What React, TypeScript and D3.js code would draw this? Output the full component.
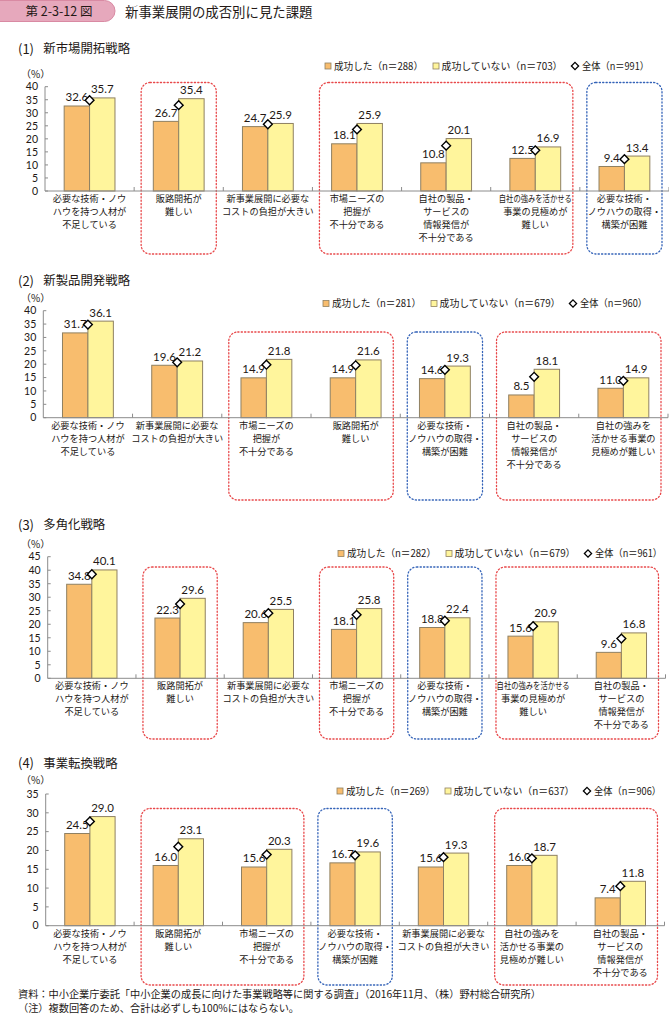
import React from "react";
import * as d3 from "d3";

const FONT = '"Noto Sans CJK JP", "Noto Sans", sans-serif';
const NUMFONT = 'Lato, "Noto Sans", sans-serif';

// ---------- DATA ----------
const p1Num = "(1)";
const p1Title = "新市場開拓戦略";
const p1Categories = [
  "必要な技術・ノウ\nハウを持つ人材が\n不足している",
  "販路開拓が\n難しい",
  "新事業展開に必要な\nコストの負担が大きい",
  "市場ニーズの\n把握が\n不十分である",
  "自社の製品・\nサービスの\n情報発信が\n不十分である",
  "自社の強みを活かせる\n事業の見極めが\n難しい",
  "必要な技術・\nノウハウの取得・\n構築が困難",
];
const p1Success = [32.6, 26.7, 24.7, 18.1, 10.8, 12.5, 9.4];
const p1Fail = [35.7, 35.4, 25.9, 25.9, 20.1, 16.9, 13.4];
const p1Total = [34.8, 32.9, 25.6, 23.6, 17.4, 15.6, 12.2];
const p1Ticks = [0, 5, 10, 15, 20, 25, 30, 35, 40];
const p1Legend = ["成功した（n＝288）", "成功していない（n＝703）", "全体（n＝991）"];

const p2Num = "(2)";
const p2Title = "新製品開発戦略";
const p2Categories = [
  "必要な技術・ノウ\nハウを持つ人材が\n不足している",
  "新事業展開に必要な\nコストの負担が大きい",
  "市場ニーズの\n把握が\n不十分である",
  "販路開拓が\n難しい",
  "必要な技術・\nノウハウの取得・\n構築が困難",
  "自社の製品・\nサービスの\n情報発信が\n不十分である",
  "自社の強みを\n活かせる事業の\n見極めが難しい",
];
const p2Success = [31.7, 19.6, 14.9, 14.9, 14.6, 8.5, 11.0];
const p2Fail = [36.1, 21.2, 21.8, 21.6, 19.3, 18.1, 14.9];
const p2Total = [34.8, 20.7, 19.8, 19.6, 17.9, 15.3, 13.8];
const p2Ticks = [0, 5, 10, 15, 20, 25, 30, 35, 40];
const p2Legend = ["成功した（n＝281）", "成功していない（n＝679）", "全体（n＝960）"];

const p3Num = "(3)";
const p3Title = "多角化戦略";
const p3Categories = [
  "必要な技術・ノウ\nハウを持つ人材が\n不足している",
  "販路開拓が\n難しい",
  "新事業展開に必要な\nコストの負担が大きい",
  "市場ニーズの\n把握が\n不十分である",
  "必要な技術・\nノウハウの取得・\n構築が困難",
  "自社の強みを活かせる\n事業の見極めが\n難しい",
  "自社の製品・\nサービスの\n情報発信が\n不十分である",
];
const p3Success = [34.8, 22.3, 20.6, 18.1, 18.8, 15.6, 9.6];
const p3Fail = [40.1, 29.6, 25.5, 25.8, 22.4, 20.9, 16.8];
const p3Total = [38.5, 27.5, 24.1, 23.5, 21.3, 19.3, 14.7];
const p3Ticks = [0, 5, 10, 15, 20, 25, 30, 35, 40, 45];
const p3Legend = ["成功した（n＝282）", "成功していない（n＝679）", "全体（n＝961）"];

const p4Num = "(4)";
const p4Title = "事業転換戦略";
const p4Categories = [
  "必要な技術・ノウ\nハウを持つ人材が\n不足している",
  "販路開拓が\n難しい",
  "市場ニーズの\n把握が\n不十分である",
  "必要な技術・\nノウハウの取得・\n構築が困難",
  "新事業展開に必要な\nコストの負担が大きい",
  "自社の強みを\n活かせる事業の\n見極めが難しい",
  "自社の製品・\nサービスの\n情報発信が\n不十分である",
];
const p4Success = [24.5, 16.0, 15.6, 16.7, 15.6, 16.0, 7.4];
const p4Fail = [29.0, 23.1, 20.3, 19.6, 19.3, 18.7, 11.8];
const p4Total = [27.7, 21.0, 18.9, 18.7, 18.2, 17.9, 10.5];
const p4Ticks = [0, 5, 10, 15, 20, 25, 30, 35];
const p4Legend = ["成功した（n＝269）", "成功していない（n＝637）", "全体（n＝906）"];

const figLabel = "第 2-3-12 図";
const figTitle = "新事業展開の成否別に見た課題";
const unitLabel = "（%）";
const sourceNote = "資料：中小企業庁委託「中小企業の成長に向けた事業戦略等に関する調査」（2016年11月、（株）野村総合研究所）";
const footNote = "（注）複数回答のため、合計は必ずしも100%にはならない。";

// ---------- STYLE / LAYOUT ----------
const C_SUCC = "#F8BD6E";
const C_FAIL = "#FFF59C";
const C_BAR_STROKE = "#8f8062";
const C_AXIS = "#8c8c8c";
const C_TEXT = "#231815";
const C_RED = "#E8484A";
const C_BLUE = "#3463B8";

// condensed label lines (rendered narrower, as in the original)
const condensed: Record<string, number> = { "自社の強みを活かせる": 73 };

const layouts = [
  {
    left: 45, right: 669, top: 86.7, bottom: 191, yMax: 40,
    titleY: 49, pctY: 74, legendX: 325, legendY: 66,
    boxTop: 82.5, boxBottom: 254,
    boxes: [
      { from: 1, to: 1, color: C_RED },
      { from: 3, to: 5, color: C_RED },
      { from: 6, to: 6, color: C_BLUE },
    ],
  },
  {
    left: 43.3, right: 668, top: 310.7, bottom: 417.7, yMax: 40,
    titleY: 281, pctY: 298.5, legendX: 323, legendY: 303.5,
    boxTop: 332, boxBottom: 500,
    boxes: [
      { from: 2, to: 3, color: C_RED },
      { from: 4, to: 4, color: C_BLUE },
      { from: 5, to: 6, color: C_RED },
    ],
  },
  {
    left: 47.7, right: 665.5, top: 556.7, bottom: 678.3, yMax: 45,
    titleY: 525, pctY: 544, legendX: 338, legendY: 553.5,
    boxTop: 567, boxBottom: 739,
    boxes: [
      { from: 1, to: 1, color: C_RED },
      { from: 3, to: 3, color: C_RED },
      { from: 4, to: 4, color: C_BLUE },
      { from: 5, to: 6, color: C_RED },
    ],
  },
  {
    left: 45.7, right: 664.5, top: 794, bottom: 925.7, yMax: 35,
    titleY: 763.5, pctY: 780.7, legendX: 337, legendY: 791,
    boxTop: 808.5, boxBottom: 985,
    boxes: [
      { from: 1, to: 2, color: C_RED },
      { from: 3, to: 3, color: C_BLUE },
      { from: 5, to: 6, color: C_RED },
    ],
  },
];

type PanelProps = {
  L: any;
  num: string;
  title: string;
  cats: string[];
  succ: number[];
  fail: number[];
  total: number[];
  ticks: number[];
  legend: string[];
};

function Panel({ L, num, title, cats, succ, fail, total, ticks, legend }: PanelProps) {
  const x = d3
    .scaleBand<number>()
    .domain(cats.map((_, i) => i))
    .range([L.left, L.right])
    .paddingInner(0)
    .paddingOuter(0);
  const y = d3.scaleLinear().domain([0, L.yMax]).range([L.bottom, L.top]);
  const bw = x.bandwidth() * 0.285;
  const cx = (i: number) => (x(i) as number) + x.bandwidth() / 2;
  const diamond = (px: number, py: number, r: number) =>
    `M${px},${py - r}L${px + r},${py}L${px},${py + r}L${px - r},${py}Z`;

  return (
    <g>
      <text x={18} y={L.titleY} dy="0.35em" fontSize={13} fill={C_TEXT} fontFamily={FONT}>
        {num}
      </text>
      <text x={43.3} y={L.titleY} dy="0.35em" fontSize={12.4} fill={C_TEXT} fontFamily={FONT}>
        {title}
      </text>
      <text x={21} y={L.pctY} dy="0.35em" fontSize={10} fill={C_TEXT} fontFamily={FONT}>
        {unitLabel}
      </text>

      {/* dotted boxes */}
      {L.boxes.map((b: any, k: number) => {
        const x0 = (x(b.from) as number) + 7;
        const x1 = (x(b.to) as number) + x.bandwidth() - 7;
        return (
          <rect
            key={k}
            x={x0}
            y={L.boxTop}
            width={x1 - x0}
            height={L.boxBottom - L.boxTop}
            rx={9}
            fill="none"
            stroke={b.color}
            strokeWidth={1.3}
            strokeDasharray="1.2 2.2"
            strokeLinecap="round"
          />
        );
      })}

      {/* legend */}
      <g fontFamily={FONT} fontSize={10} fill={C_TEXT}>
        <rect x={L.legendX} y={L.legendY - 3} width={6} height={6} fill={C_SUCC} stroke={C_BAR_STROKE} strokeWidth={0.8} />
        <text x={L.legendX + 9} y={L.legendY} dy="0.35em" textLength={89} lengthAdjust="spacingAndGlyphs">{legend[0]}</text>
        <rect x={L.legendX + 108} y={L.legendY - 3} width={6} height={6} fill={C_FAIL} stroke={C_BAR_STROKE} strokeWidth={0.8} />
        <text x={L.legendX + 116.5} y={L.legendY} dy="0.35em" textLength={121} lengthAdjust="spacingAndGlyphs">{legend[1]}</text>
        <path d={diamond(L.legendX + 250, L.legendY, 3.6)} fill="#fff" stroke="#000" strokeWidth={1.3} />
        <text x={L.legendX + 257} y={L.legendY} dy="0.35em" textLength={67} lengthAdjust="spacingAndGlyphs">{legend[2]}</text>
      </g>

      {/* y axis */}
      <line x1={L.left} x2={L.left} y1={L.top} y2={L.bottom} stroke={C_AXIS} strokeWidth={1} />
      {ticks.map((t) => (
        <g key={t}>
          <line x1={L.left} x2={L.left + 3} y1={y(t)} y2={y(t)} stroke={C_AXIS} strokeWidth={1} />
          <text
            x={L.left - 7}
            y={y(t)}
            dy="0.36em"
            textAnchor="end"
            fontSize={10.5}
            fill={C_TEXT}
            fontFamily={NUMFONT}
          >
            {t}
          </text>
        </g>
      ))}

      {/* bars */}
      {cats.map((_, i) => (
        <g key={i}>
          <rect x={cx(i) - bw} y={y(succ[i])} width={bw} height={L.bottom - y(succ[i])} fill={C_SUCC} stroke={C_BAR_STROKE} strokeWidth={1} />
          <rect x={cx(i)} y={y(fail[i])} width={bw} height={L.bottom - y(fail[i])} fill={C_FAIL} stroke={C_BAR_STROKE} strokeWidth={1} />
        </g>
      ))}

      {/* x axis */}
      <line x1={L.left} x2={L.right} y1={L.bottom} y2={L.bottom} stroke={C_AXIS} strokeWidth={1} />
      {cats.map((_, i) => {
        const bx = (x(i) as number) + x.bandwidth();
        return <line key={i} x1={bx} x2={bx} y1={L.bottom} y2={L.bottom - 4} stroke={C_AXIS} strokeWidth={1} />;
      })}

      {/* value labels */}
      {cats.map((_, i) => (
        <g key={i} fontFamily={NUMFONT} fontSize={11.5} fill={C_TEXT} textAnchor="middle">
          <text x={cx(i) - bw / 2} y={y(succ[i]) - 4.5}>{succ[i].toFixed(1)}</text>
          <text x={cx(i) + bw / 2} y={y(fail[i]) - 4.5}>{fail[i].toFixed(1)}</text>
        </g>
      ))}

      {/* total diamonds */}
      {cats.map((_, i) => (
        <path key={i} d={diamond(cx(i), y(total[i]), 4.4)} fill="#fff" stroke="#000" strokeWidth={1.4} />
      ))}

      {/* category labels */}
      {cats.map((c, i) => (
        <text key={i} x={cx(i)} y={L.bottom + 11} textAnchor="middle" fontSize={9.2} fill={C_TEXT} fontFamily={FONT}>
          {c.split("\n").map((line, j) => (
            <tspan
              key={j}
              x={cx(i)}
              dy={j === 0 ? 0 : 13}
              {...(condensed[line] ? { textLength: condensed[line], lengthAdjust: "spacingAndGlyphs" } : {})}
            >
              {line}
            </tspan>
          ))}
        </text>
      ))}
    </g>
  );
}

export default function App() {
  return (
    <svg
      width={669}
      height={1014}
      viewBox="0 0 669 1014"
      style={{ position: "absolute", left: 0, top: 0, background: "#fff" }}
    >
      <rect x={0} y={0} width={669} height={1014} fill="#fff" />
      {/* header */}
      <rect x={-12} y={0.5} width={127} height={21} rx={10.5} fill="#E6A8BC" stroke="#D98AA3" strokeWidth={1} />
      <text x={59} y={11.5} dy="0.35em" textAnchor="middle" fontSize={12.5} fill={C_TEXT} fontFamily={FONT}>
        {figLabel}
      </text>
      <text x={125} y={12} dy="0.35em" fontSize={13.4} fill={C_TEXT} fontFamily={FONT}>
        {figTitle}
      </text>

      <Panel L={layouts[0]} num={p1Num} title={p1Title} cats={p1Categories} succ={p1Success} fail={p1Fail} total={p1Total} ticks={p1Ticks} legend={p1Legend} />
      <Panel L={layouts[1]} num={p2Num} title={p2Title} cats={p2Categories} succ={p2Success} fail={p2Fail} total={p2Total} ticks={p2Ticks} legend={p2Legend} />
      <Panel L={layouts[2]} num={p3Num} title={p3Title} cats={p3Categories} succ={p3Success} fail={p3Fail} total={p3Total} ticks={p3Ticks} legend={p3Legend} />
      <Panel L={layouts[3]} num={p4Num} title={p4Title} cats={p4Categories} succ={p4Success} fail={p4Fail} total={p4Total} ticks={p4Ticks} legend={p4Legend} />

      <text x={18} y={994.5} dy="0.35em" fontSize={10.2} fill={C_TEXT} fontFamily={FONT}>
        {sourceNote}
      </text>
      <text x={18} y={1008} dy="0.35em" fontSize={10.2} fill={C_TEXT} fontFamily={FONT}>
        {footNote}
      </text>
    </svg>
  );
}
